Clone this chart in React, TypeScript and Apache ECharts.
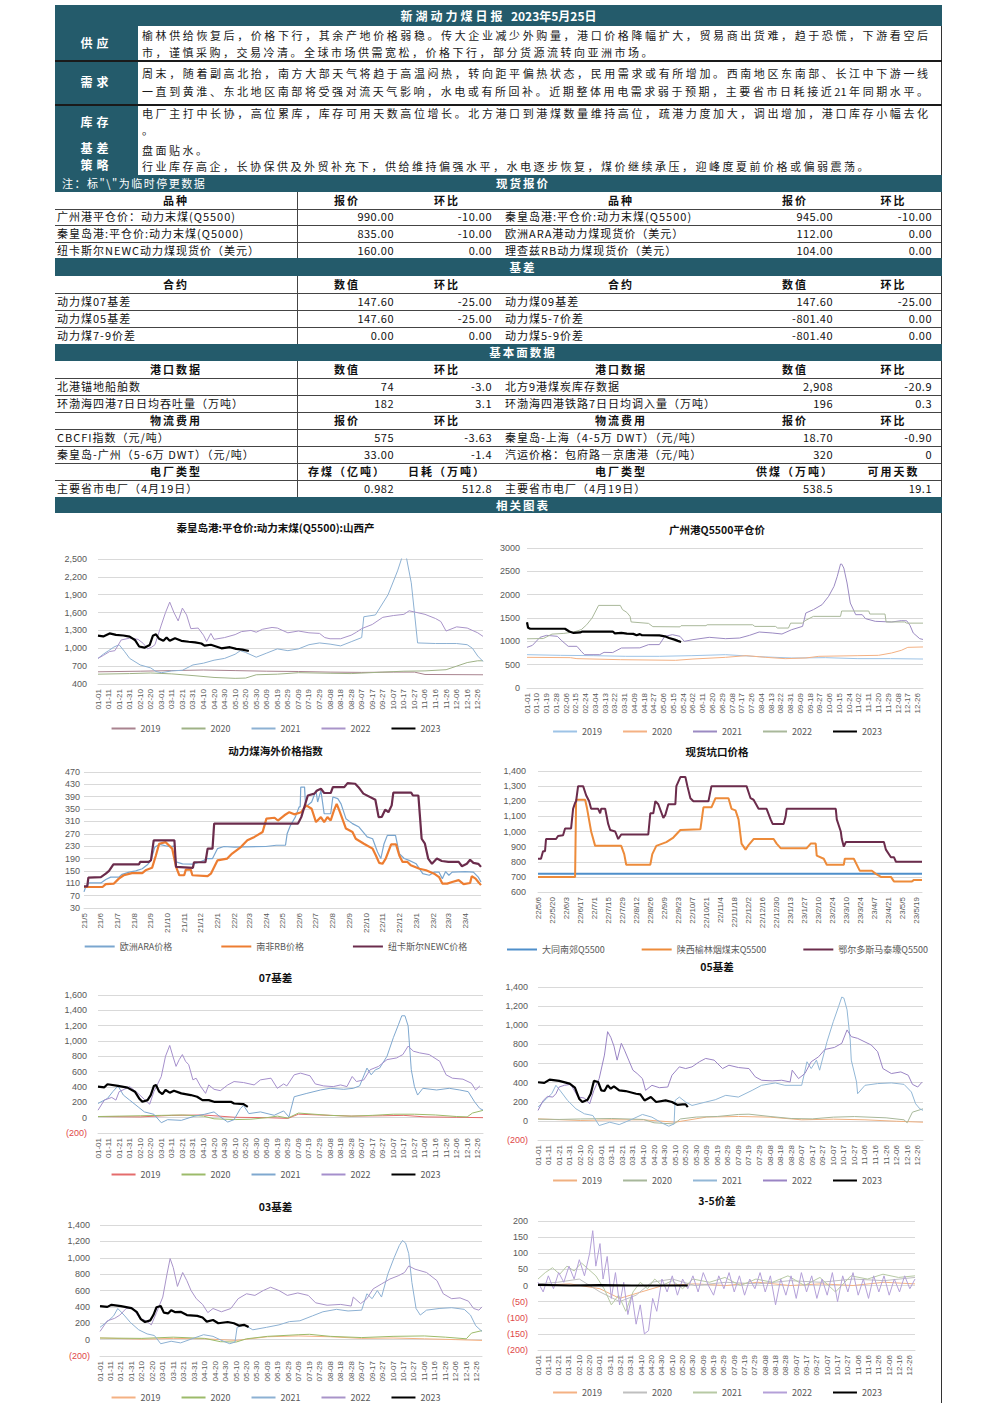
import React, { useEffect, useRef } from "react";
import * as echarts from "echarts";

type Pair = [string, number];

const TEAL = "#245b6b";
const CJK = "'Noto Sans CJK SC','Noto Sans',sans-serif";
const LATIN = "'Liberation Sans','DejaVu Sans',sans-serif";
const AXIS_GRAY = "#595959";
const GRID_GRAY = "#d9d9d9";

// ---------- text block ----------
const supplyLines = [
  "榆林供给恢复后，价格下行，其余产地价格弱稳。传大企业减少外购量，港口价格降幅扩大，贸易商出货难，趋于恐慌，下游看空后",
  "市，谨慎采购，交易冷清。全球市场供需宽松，价格下行，部分货源流转向亚洲市场。",
];
const demandLines = [
  "周末，随着副高北抬，南方大部天气将趋于高温闷热，转向距平偏热状态，民用需求或有所增加。西南地区东南部、长江中下游一线",
  "一直到黄淮、东北地区南部将受强对流天气影响，水电或有所回补。近期整体用电需求弱于预期，主要省市日耗接近21年同期水平。",
];
const inventoryLines = [
  "电厂主打中长协，高位累库，库存可用天数高位增长。北方港口到港煤数量维持高位，疏港力度加大，调出增加，港口库存小幅去化",
  "。",
];
const basisText = "盘面贴水。";
const strategyText = "行业库存高企，长协保供及外贸补充下，供给维持偏强水平，水电逐步恢复，煤价继续承压，迎峰度夏前价格或偏弱震荡。";

// ---------- tables ----------
const spotHeader = ["品种", "报价", "环比", "品种", "报价", "环比"];
const spotRows = [
  ["广州港平仓价：动力末煤(Q5500)", "990.00", "-10.00", "秦皇岛港:平仓价:动力末煤(Q5500)", "945.00", "-10.00"],
  ["秦皇岛港:平仓价:动力末煤(Q5000)", "835.00", "-10.00", "欧洲ARA港动力煤现货价（美元）", "112.00", "0.00"],
  ["纽卡斯尔NEWC动力煤现货价（美元）", "160.00", "0.00", "理查兹RB动力煤现货价（美元）", "104.00", "0.00"],
];
const basisHeader = ["合约", "数值", "环比", "合约", "数值", "环比"];
const basisRows = [
  ["动力煤07基差", "147.60", "-25.00", "动力煤09基差", "147.60", "-25.00"],
  ["动力煤05基差", "147.60", "-25.00", "动力煤5-7价差", "-801.40", "0.00"],
  ["动力煤7-9价差", "0.00", "0.00", "动力煤5-9价差", "-801.40", "0.00"],
];
const portHeader = ["港口数据", "数值", "环比", "港口数据", "数值", "环比"];
const portRows = [
  ["北港锚地船舶数", "74", "-3.0", "北方9港煤炭库存数据", "2,908", "-20.9"],
  ["环渤海四港7日日均吞吐量（万吨）", "182", "3.1", "环渤海四港铁路7日日均调入量（万吨）", "196", "0.3"],
];
const logiHeader = ["物流费用", "报价", "环比", "物流费用", "报价", "环比"];
const logiRows = [
  ["CBCFI指数（元/吨）", "575", "-3.63", "秦皇岛-上海（4-5万 DWT）（元/吨）", "18.70", "-0.90"],
  ["秦皇岛-广州（5-6万 DWT）（元/吨）", "33.00", "-1.4", "汽运价格：包府路—京唐港（元/吨）", "320", "0"],
];
const plantHeader = ["电厂类型", "存煤（亿吨）", "日耗（万吨）", "电厂类型", "供煤（万吨）", "可用天数"];
const plantRows = [["主要省市电厂（4月19日）", "0.982", "512.8", "主要省市电厂（4月19日）", "538.5", "19.1"]];

// ---------- chart categories ----------
const seasonCats: string[] = (() => {
  const out: string[] = [];
  for (let t = Date.UTC(2020, 0, 1); t < Date.UTC(2021, 0, 1); t += 86400000) {
    const d = new Date(t);
    out.push(String(d.getUTCMonth() + 1).padStart(2, "0") + "-" + String(d.getUTCDate()).padStart(2, "0"));
  }
  return out;
})();
function dateCats(y0: number, m0: number, d0: number, y1: number, m1: number, d1: number): string[] {
  const out: string[] = [];
  for (let t = Date.UTC(y0, m0 - 1, d0); t <= Date.UTC(y1, m1 - 1, d1); t += 86400000) {
    const d = new Date(t);
    out.push(`${String(d.getUTCFullYear()).slice(2)}/${d.getUTCMonth() + 1}/${d.getUTCDate()}`);
  }
  return out;
}
const overseasCats = dateCats(2021, 5, 1, 2023, 4, 30);
const pitCats = dateCats(2022, 5, 6, 2023, 5, 24);

// ---------- chart 1: 秦皇岛港 山西产 ----------
const qhd2019: Pair[] = [["01-01",605],["02-10",615],["03-11",625],["04-10",635],["05-10",625],["06-09",615],["07-09",610],["08-08",600],["09-07",595],["10-07",600],["10-27",600],["11-06",560],["12-31",555]];
const qhd2020: Pair[] = [["01-01",565],["01-31",575],["02-20",585],["03-11",570],["04-01",540],["04-20",510],["05-10",495],["05-20",500],["05-30",555],["06-19",565],["07-09",590],["08-08",580],["08-28",575],["09-27",600],["10-17",615],["11-06",620],["11-26",640],["12-06",700],["12-16",760],["12-26",790],["12-31",790]];
const qhd2021: Pair[] = [["01-01",830],["01-06",900],["01-11",960],["01-16",1020],["01-21",1060],["01-26",950],["01-31",830],["02-10",720],["02-20",670],["02-25",610],["03-01",590],["03-11",620],["03-21",630],["03-31",720],["04-10",750],["04-20",800],["04-30",830],["05-10",900],["05-15",960],["05-20",930],["05-30",850],["06-09",920],["06-19",990],["06-29",960],["07-09",990],["07-19",1060],["07-29",1090],["08-08",1070],["08-18",1040],["08-28",1110],["09-07",1180],["09-09",1530],["09-20",1560],["10-02",1900],["10-11",2300],["10-16",2570],["10-19",2560],["10-24",2100],["10-27",1600],["10-30",1090],["11-16",1080],["11-26",1080],["12-06",1080],["12-16",1060],["12-21",1000],["12-26",870],["12-31",780]];
const qhd2022: Pair[] = [["01-01",830],["01-06",880],["01-12",945],["01-17",960],["01-23",1140],["01-31",1170],["02-08",1150],["02-13",1080],["02-17",990],["02-21",1020],["02-24",1060],["03-01",1390],["03-05",1600],["03-09",1776],["03-13",1600],["03-17",1460],["03-21",1675],["03-25",1560],["03-29",1330],["04-05",1340],["04-10",1220],["04-13",1115],["04-17",1250],["04-20",1150],["04-30",1180],["05-10",1230],["05-16",1280],["05-25",1300],["05-30",1270],["06-05",1320],["06-14",1350],["06-19",1340],["06-29",1260],["07-09",1290],["07-19",1260],["07-29",1250],["08-03",1180],["08-08",1160],["08-18",1160],["08-28",1220],["09-02",1270],["09-07",1330],["09-17",1400],["09-27",1520],["10-07",1550],["10-17",1570],["10-22",1630],["10-27",1610],["11-06",1570],["11-16",1500],["11-21",1450],["11-26",1290],["12-06",1360],["12-16",1340],["12-26",1260],["12-31",1200]];
const qhd2023: Pair[] = [["01-01",1214],["01-06",1200],["01-12",1250],["01-18",1225],["01-25",1215],["01-31",1195],["02-05",1140],["02-09",1030],["02-14",1010],["02-19",1055],["02-22",1210],["02-25",1235],["02-28",1160],["03-03",1125],["03-06",1180],["03-09",1125],["03-14",1170],["03-20",1125],["03-27",1110],["04-02",1100],["04-08",1080],["04-11",1045],["04-17",1060],["04-22",1030],["04-27",1000],["05-05",1018],["05-11",990],["05-17",978],["05-23",955]];

// ---------- chart 2: 广州港 ----------
const gz2019: Pair[] = [["01-01",714],["02-01",700],["03-02",693],["04-01",679],["05-02",679],["06-01",693],["07-02",714],["08-02",671],["09-01",643],["10-02",650],["11-01",629],["12-01",629],["12-31",621]];
const gz2020: Pair[] = [["01-01",657],["02-10",650],["02-16",629],["03-27",607],["05-17",593],["06-02",621],["07-02",657],["07-21",693],["08-08",657],["08-26",629],["09-14",643],["09-26",679],["11-01",693],["11-20",700],["12-02",750],["12-11",807],["12-17",871],["12-31",879]];
const gz2021: Pair[] = [["01-01",871],["01-06",914],["01-13",1086],["01-19",1128],["01-29",1107],["02-02",1014],["02-08",893],["02-16",893],["02-20",786],["02-23",714],["03-08",714],["03-12",764],["03-20",760],["03-28",857],["04-14",860],["04-22",929],["05-02",930],["05-07",1107],["05-14",1143],["05-21",1107],["05-25",1000],["06-02",1036],["06-17",1086],["07-02",1057],["07-15",1071],["07-24",1128],["08-02",1200],["08-14",1179],["08-23",1157],["09-01",1250],["09-11",1321],["09-14",1607],["09-21",1679],["09-29",1786],["10-05",1964],["10-10",2179],["10-13",2393],["10-16",2657],["10-17",2657],["10-19",2571],["10-22",2250],["10-25",1821],["10-30",1571],["11-05",1571],["11-08",1486],["11-17",1429],["12-02",1414],["12-11",1443],["12-16",1440],["12-19",1343],["12-22",1179],["12-28",1057],["12-31",1040]];
const gz2022: Pair[] = [["01-01",1055],["01-16",1060],["01-24",1155],["02-04",1170],["02-13",1200],["02-20",1250],["02-25",1355],["03-01",1500],["03-07",1770],["03-27",1770],["03-29",1680],["04-02",1620],["04-05",1535],["04-06",1415],["04-22",1385],["04-26",1315],["05-21",1310],["05-22",1335],["06-14",1335],["06-15",1355],["07-27",1355],["07-29",1320],["08-17",1320],["08-19",1285],["08-29",1285],["08-31",1390],["09-11",1390],["09-13",1440],["09-21",1535],["10-16",1535],["10-17",1650],["11-11",1650],["11-12",1585],["11-26",1585],["11-27",1415],["12-14",1415],["12-16",1390],["12-31",1390]];
const gz2023: Pair[] = [["01-01",1410],["01-02",1290],["01-04",1270],["02-05",1270],["02-09",1210],["02-13",1180],["02-19",1190],["02-21",1210],["03-20",1210],["03-22",1170],["03-28",1180],["04-02",1165],["04-08",1160],["04-11",1130],["04-14",1155],["04-16",1130],["05-02",1128],["05-07",1107],["05-11",1070],["05-16",1036],["05-19",1010],["05-22",985]];

// ---------- chart 3: 海外价格指数 ----------
const araPrice: Pair[] = [["21/5/1",82],["21/5/4",98],["21/5/10",111],["21/6/1",111],["21/6/10",122],["21/6/19",130],["21/7/4",130],["21/7/10",139],["21/7/23",146],["21/8/4",150],["21/8/16",157],["21/8/26",171],["21/9/1",184],["21/9/8",227],["21/9/17",236],["21/10/3",229],["21/10/14",230],["21/10/17",179],["21/10/29",173],["21/11/17",172],["21/11/30",179],["21/12/14",190],["21/12/23",190],["22/1/1",222],["22/1/13",229],["22/2/1",227],["22/3/31",229],["22/4/19",233],["22/5/6",233],["22/5/9",270],["22/5/15",297],["22/5/24",324],["22/5/31",357],["22/6/2",357],["22/6/3",421],["22/6/10",421],["22/6/12",357],["22/6/23",373],["22/7/1",410],["22/7/4",373],["22/7/10",410],["22/7/16",335],["22/7/28",335],["22/8/1",389],["22/8/10",384],["22/8/16",367],["22/8/25",319],["22/9/6",303],["22/9/18",292],["22/10/3",260],["22/10/13",254],["22/10/22",211],["22/10/28",190],["22/11/3",238],["22/11/9",265],["22/11/24",265],["22/12/1",206],["22/12/10",190],["22/12/19",184],["23/1/1",173],["23/1/13",141],["23/1/25",136],["23/2/3",146],["23/2/12",146],["23/2/18",125],["23/2/24",148],["23/3/2",136],["23/3/8",146],["23/4/1",148],["23/4/16",146],["23/4/25",130],["23/4/30",114]];
const rbPrice: Pair[] = [["21/5/1",98],["21/6/4",98],["21/6/10",107],["21/6/25",109],["21/7/4",125],["21/7/13",136],["21/7/28",143],["21/8/16",143],["21/8/22",152],["21/9/3",160],["21/9/10",200],["21/9/16",238],["21/9/28",243],["21/10/10",222],["21/10/17",163],["21/10/23",136],["21/11/1",136],["21/11/4",154],["21/11/13",154],["21/11/16",136],["21/12/14",133],["21/12/20",141],["22/1/1",184],["22/1/19",190],["22/1/28",206],["22/2/13",227],["22/2/25",249],["22/3/10",260],["22/3/25",276],["22/4/1",319],["22/4/16",322],["22/4/22",313],["22/5/4",330],["22/5/13",340],["22/5/22",333],["22/6/4",340],["22/6/13",362],["22/6/23",351],["22/7/1",308],["22/7/10",324],["22/7/16",308],["22/7/22",324],["22/7/28",313],["22/8/3",346],["22/8/8",367],["22/8/14",340],["22/8/25",287],["22/9/6",276],["22/9/12",254],["22/9/27",238],["22/10/13",222],["22/10/19",200],["22/10/25",176],["22/10/31",173],["22/11/6",190],["22/11/16",236],["22/11/25",236],["22/12/1",200],["22/12/7",179],["22/12/16",179],["22/12/22",168],["23/1/7",157],["23/1/19",152],["23/2/3",141],["23/2/12",130],["23/2/18",109],["23/2/27",109],["23/3/8",114],["23/3/20",120],["23/3/29",107],["23/4/10",111],["23/4/13",133],["23/4/20",125],["23/4/25",114],["23/4/30",104]];
const newcPrice: Pair[] = [["21/5/1",100],["21/5/7",100],["21/5/9",128],["21/6/1",130],["21/6/10",141],["21/6/16",150],["21/6/24",171],["21/8/10",171],["21/8/12",179],["21/8/28",179],["21/9/1",185],["21/9/6",249],["21/10/14",249],["21/10/17",163],["21/11/17",160],["21/11/19",178],["21/12/10",178],["21/12/14",222],["21/12/23",222],["21/12/26",303],["22/5/29",303],["22/6/4",324],["22/6/16",394],["22/6/28",400],["22/7/3",410],["22/7/10",416],["22/7/16",402],["22/7/28",402],["22/8/1",421],["22/8/22",421],["22/8/28",434],["22/9/11",432],["22/9/17",421],["22/9/26",400],["22/10/18",380],["22/10/24",324],["22/10/30",325],["22/11/5",348],["22/11/11",340],["22/11/17",362],["22/11/20",403],["22/12/23",403],["22/12/26",394],["23/1/5",394],["23/1/8",324],["23/1/11",254],["23/1/17",238],["23/1/23",190],["23/1/30",173],["23/2/8",190],["23/2/17",182],["23/3/1",179],["23/3/20",179],["23/3/26",165],["23/4/4",173],["23/4/10",186],["23/4/16",176],["23/4/25",173],["23/4/30",163]];

// ---------- chart 4: 现货坑口价格 ----------
const datongPrice: Pair[] = [["22/5/6",720],["23/5/24",720]];
const shaanxiPrice: Pair[] = [["22/5/6",700],["22/6/12",700],["22/6/13",1210],["22/6/22",1210],["22/6/24",1150],["22/6/28",1000],["22/7/2",905],["22/7/28",905],["22/7/31",850],["22/8/2",780],["22/8/26",780],["22/8/28",850],["22/9/1",905],["22/9/11",930],["22/9/18",960],["22/9/25",1010],["22/10/15",1015],["22/10/18",1160],["22/10/26",1160],["22/10/30",1220],["22/11/12",1220],["22/11/15",1150],["22/11/19",1140],["22/11/22",1080],["22/11/25",920],["22/11/29",880],["22/12/2",910],["22/12/7",950],["22/12/27",950],["22/12/30",920],["23/1/3",890],["23/1/29",890],["23/2/2",920],["23/2/7",920],["23/2/8",840],["23/2/15",820],["23/2/18",780],["23/3/7",780],["23/3/8",820],["23/3/17",820],["23/3/23",740],["23/4/4",740],["23/4/8",720],["23/4/13",700],["23/4/23",700],["23/4/26",670],["23/5/14",670],["23/5/16",680],["23/5/24",680]];
const ordosPrice: Pair[] = [["22/5/6",820],["22/5/9",820],["22/5/11",870],["22/5/13",870],["22/5/14",950],["22/5/24",950],["22/5/26",970],["22/5/31",975],["22/6/2",1020],["22/6/8",1020],["22/6/10",1150],["22/6/12",1190],["22/6/13",1200],["22/6/15",1300],["22/6/20",1300],["22/6/23",1240],["22/6/26",1200],["22/6/28",1150],["22/7/5",1150],["22/7/7",1120],["22/7/8",1150],["22/7/12",1150],["22/7/15",1050],["22/7/17",1010],["22/7/22",1000],["22/7/25",950],["22/7/28",980],["22/8/24",980],["22/8/26",1120],["22/8/29",1120],["22/8/31",1200],["22/9/3",1180],["22/9/8",1090],["22/9/10",1110],["22/9/13",1180],["22/9/20",1180],["22/9/21",1300],["22/9/25",1360],["22/9/30",1360],["22/10/2",1300],["22/10/5",1220],["22/10/8",1200],["22/10/23",1200],["22/10/26",1300],["22/11/30",1300],["22/12/4",1220],["22/12/7",1210],["22/12/12",1150],["22/12/20",1150],["22/12/24",1080],["22/12/26",1050],["23/1/6",1050],["23/1/8",1100],["23/1/9",1150],["23/2/27",1150],["23/2/28",1080],["23/3/4",1000],["23/3/5",950],["23/3/7",900],["23/3/9",930],["23/4/16",930],["23/4/18",880],["23/4/23",830],["23/4/26",830],["23/4/28",800],["23/5/24",800]];

// ---------- chart 5: 07基差 ----------
const b07_2019: Pair[] = [["01-01",15],["02-10",10],["03-11",30],["04-10",35],["05-10",5],["06-09",0],["06-29",-10],["07-09",45],["07-29",35],["08-28",20],["09-27",25],["10-17",30],["11-06",10],["12-06",5],["12-31",0]];
const b07_2020: Pair[] = [["01-01",15],["01-21",20],["02-10",25],["03-01",30],["03-21",35],["04-10",20],["04-20",-15],["05-10",-25],["05-25",-20],["06-09",0],["06-19",20],["06-29",-5],["07-09",60],["07-19",50],["08-08",30],["08-28",20],["09-17",30],["10-07",45],["10-27",45],["11-16",35],["12-06",15],["12-16",10],["12-21",60],["12-31",95]];
const b07_2021: Pair[] = [["01-01",185],["01-10",251],["01-15",339],["01-20",414],["01-25",295],["01-31",229],["02-08",141],["02-14",75],["02-23",44],["03-01",-66],["03-07",-26],["03-20",-35],["04-01",18],["04-11",44],["04-20",75],["04-26",9],["05-03",-57],["05-09",-26],["05-15",119],["05-18",160],["05-23",53],["06-03",75],["06-16",31],["06-25",88],["06-30",9],["07-05",273],["07-17",317],["07-30",361],["08-08",383],["08-21",370],["08-30",383],["09-05",414],["09-12",647],["09-16",559],["09-20",625],["09-24",647],["10-01",801],["10-07",1043],["10-12",1219],["10-15",1329],["10-18",1329],["10-21",1197],["10-24",625],["10-27",405],["10-30",295],["11-04",383],["11-17",361],["11-29",383],["12-09",361],["12-17",339],["12-23",207],["12-28",119],["12-31",100]];
const b07_2022: Pair[] = [["01-01",97],["01-07",229],["01-14",264],["01-18",229],["01-21",339],["01-26",370],["01-31",405],["02-08",317],["02-14",238],["02-19",176],["02-23",339],["03-01",537],["03-05",801],["03-09",942],["03-12",801],["03-15",669],["03-18",757],["03-21",823],["03-24",735],["03-27",691],["03-31",493],["04-03",515],["04-07",414],["04-12",317],["04-15",427],["04-20",370],["04-26",352],["05-03",427],["05-09",471],["05-18",458],["05-28",427],["06-03",493],["06-13",515],["06-19",383],["06-25",440],["06-28",414],["07-05",559],["07-11",581],["07-20",546],["07-25",440],["08-02",414],["08-11",405],["08-18",427],["08-24",405],["08-29",537],["09-02",471],["09-09",493],["09-15",625],["09-23",669],["10-01",757],["10-10",779],["10-16",823],["10-21",933],["10-26",867],["11-01",845],["11-10",823],["11-20",735],["11-26",559],["12-02",515],["12-12",502],["12-20",449],["12-24",361],["12-28",414]];
const b07_2023: Pair[] = [["01-01",405],["01-07",396],["01-10",436],["01-20",414],["01-29",392],["02-05",339],["02-09",251],["02-12",207],["02-17",229],["02-20",295],["02-23",414],["02-25",427],["02-28",339],["03-02",308],["03-05",361],["03-09",326],["03-13",352],["03-20",317],["03-29",295],["04-04",273],["04-09",229],["04-15",229],["04-20",207],["04-29",207],["05-06",207],["05-09",185],["05-18",176],["05-22",141]];

// ---------- chart 6: 05基差 ----------
const b05_2019: Pair[] = [["01-01",21],["02-10",4],["03-11",11],["04-10",11],["05-10",-14],["06-09",40],["07-09",46],["08-08",39],["09-07",11],["10-07",18],["11-06",11],["12-06",-4],["12-31",-14]];
const b05_2020: Pair[] = [["01-01",18],["01-21",15],["02-10",20],["03-11",25],["04-10",15],["04-20",-20],["05-09",-32],["05-15",20],["05-30",40],["06-19",46],["07-09",67],["07-19",70],["08-08",46],["08-28",25],["09-17",21],["10-07",39],["10-27",45],["11-26",32],["12-13",11],["12-16",-20],["12-21",91],["12-31",126]];
const b05_2021: Pair[] = [["01-01",144],["01-09",232],["01-14",284],["01-18",372],["01-23",302],["01-29",214],["02-06",126],["02-14",74],["02-22",56],["02-28",-49],["03-09",-14],["03-18",-39],["03-31",21],["04-09",67],["04-18",39],["04-28",-25],["05-04",-56],["05-09",-32],["05-10",214],["05-14",249],["05-20",197],["05-26",161],["06-08",197],["06-17",221],["06-27",267],["07-09",249],["07-22",319],["07-31",372],["08-13",397],["08-22",372],["09-07",372],["09-12",618],["09-16",547],["09-21",635],["09-24",530],["10-01",828],["10-07",1039],["10-12",1197],["10-15",1295],["10-17",1284],["10-20",1161],["10-23",846],["10-24",635],["10-29",407],["10-30",284],["11-06",372],["11-18",390],["12-01",397],["12-13",382],["12-20",302],["12-24",179],["12-28",126],["12-31",110]];
const b05_2022: Pair[] = [["01-01",109],["01-06",214],["01-10",256],["01-15",249],["01-18",284],["01-21",354],["01-26",372],["02-01",382],["02-08",249],["02-14",239],["02-19",179],["02-23",319],["02-28",442],["03-04",688],["03-07",933],["03-10",874],["03-13",782],["03-16",635],["03-20",811],["03-23",740],["03-27",635],["03-31",530],["04-04",495],["04-09",442],["04-12",319],["04-18",372],["04-25",347],["05-03",354],["05-07",477],["05-14",565],["05-20",547],["05-26",565],["06-02",618],["06-08",653],["06-16",635],["06-24",547],["06-30",582],["07-09",558],["07-19",547],["07-25",460],["07-31",425],["08-10",418],["08-19",425],["08-27",407],["08-29",530],["09-04",442],["09-10",495],["09-16",618],["09-23",670],["09-29",747],["10-08",768],["10-15",811],["10-20",951],["10-24",881],["10-30",863],["11-12",793],["11-18",723],["11-23",547],["12-01",495],["12-10",512],["12-17",477],["12-21",382],["12-26",354],["12-30",404]];
const b05_2023: Pair[] = [["01-01",404],["01-07",397],["01-12",432],["01-21",418],["01-31",390],["02-05",347],["02-09",232],["02-12",197],["02-17",221],["02-20",284],["02-23",418],["02-27",407],["03-01",319],["03-04",312],["03-07",372],["03-10",337],["03-13",361],["03-18",319],["03-24",312],["04-03",284],["04-07",277],["04-11",214],["04-17",249],["04-22",197],["05-01",214],["05-07",197],["05-12",168],["05-17",172],["05-20",172],["05-22",144]];

// ---------- chart 7: 03基差 ----------
const b03_2019: Pair[] = [["01-01",20],["02-10",5],["03-11",15],["04-10",10],["05-10",-10],["06-09",35],["07-09",45],["08-08",35],["09-07",15],["10-07",20],["11-06",10],["12-06",0],["12-31",-10]];
const b03_2020: Pair[] = [["01-01",20],["02-10",15],["03-11",30],["04-10",15],["04-25",-25],["05-10",-30],["05-20",10],["06-09",40],["07-09",60],["07-19",65],["08-08",40],["09-07",25],["10-07",40],["11-06",45],["11-26",30],["12-16",10],["12-21",80],["12-31",110]];
const b03_2021: Pair[] = [["01-01",150],["01-09",230],["01-14",290],["01-18",380],["01-24",300],["01-30",210],["02-07",120],["02-15",70],["02-22",50],["02-28",-50],["03-09",-20],["03-18",-40],["03-31",20],["04-09",60],["04-18",40],["04-28",-20],["05-04",-50],["05-09",-30],["05-11",150],["05-18",180],["05-26",120],["06-08",150],["06-20",180],["06-30",220],["07-10",230],["07-22",290],["08-01",340],["08-14",370],["08-25",350],["09-07",360],["09-12",560],["09-17",500],["09-22",600],["09-26",520],["10-02",800],["10-08",1000],["10-13",1150],["10-16",1210],["10-19",1180],["10-22",1050],["10-25",700],["10-29",380],["11-02",300],["11-08",360],["11-20",380],["12-02",390],["12-14",370],["12-20",300],["12-25",170],["12-31",100]];
const b03_2022: Pair[] = [["01-01",100],["01-08",230],["01-15",260],["01-20",300],["01-26",380],["02-01",390],["02-08",260],["02-14",230],["02-19",180],["02-24",330],["03-01",520],["03-05",800],["03-08",990],["03-11",880],["03-15",650],["03-20",820],["03-24",720],["03-28",600],["04-02",500],["04-08",430],["04-13",330],["04-18",380],["04-26",340],["05-05",380],["05-12",500],["05-20",560],["05-28",540],["06-05",600],["06-12",640],["06-20",600],["06-28",540],["07-08",570],["07-18",540],["07-25",450],["08-05",420],["08-18",430],["08-28",410],["08-30",520],["09-06",440],["09-12",500],["09-18",620],["09-26",680],["10-04",740],["10-12",780],["10-18",820],["10-22",900],["10-28",860],["11-08",820],["11-18",720],["11-24",560],["12-02",500],["12-10",510],["12-18",470],["12-23",380],["12-28",360],["12-31",400]];
const b03_2023: Pair[] = [["01-01",410],["01-08",400],["01-12",425],["01-21",410],["01-31",385],["02-05",340],["02-09",250],["02-13",215],["02-18",235],["02-21",300],["02-24",395],["02-28",410],["03-02",330],["03-06",320],["03-09",360],["03-13",335],["03-18",340],["03-24",300],["04-03",290],["04-08",270],["04-12",220],["04-18",240],["04-23",200],["05-02",215],["05-08",200],["05-13",170],["05-18",180],["05-22",155]];

// ---------- chart 8: 3-5价差 ----------
const s35_2019: Pair[] = [["01-01",0],["02-01",5],["03-01",-10],["03-20",-40],["04-10",-20],["05-01",0],["06-01",5],["07-01",0],["08-01",10],["09-01",0],["10-01",5],["11-01",0],["12-01",10],["12-31",5]];
const s35_2020: Pair[] = [["01-01",5],["01-20",10],["02-10",20],["03-01",-20],["03-20",-50],["04-05",-30],["04-20",10],["05-10",20],["06-01",0],["07-01",10],["08-01",5],["09-01",15],["10-01",10],["11-01",20],["12-01",15],["12-31",25]];
const s35_2021: Pair[] = [["01-01",20],["01-08",40],["01-15",55],["01-22",35],["01-29",60],["02-05",45],["02-12",70],["02-19",50],["02-26",30],["03-05",-10],["03-12",-60],["03-19",-30],["03-26",-80],["04-02",-20],["04-09",10],["04-16",-10],["04-23",20],["04-30",0],["05-10",15],["05-20",-10],["05-30",20],["06-15",10],["06-30",25],["07-15",0],["07-30",20],["08-15",10],["08-30",30],["09-15",0],["09-30",25],["10-15",-20],["10-30",30],["11-15",20],["11-30",35],["12-15",25],["12-31",30]];
const s35_2022: Pair[] = [["01-01",10],["01-06",-20],["01-11",30],["01-16",-10],["01-21",40],["01-26",10],["01-31",60],["02-05",20],["02-10",80],["02-15",30],["02-20",100],["02-23",170],["02-26",60],["03-01",130],["03-04",20],["03-08",90],["03-12",-40],["03-16",40],["03-20",-60],["03-24",10],["03-28",-90],["04-01",-30],["04-05",-120],["04-09",-60],["04-13",-150],["04-17",-140],["04-21",-40],["04-25",-80],["04-30",20],["05-05",-20],["05-10",30],["05-15",-30],["05-20",20],["05-25",-10],["05-30",30],["06-04",-20],["06-09",40],["06-14",0],["06-19",-30],["06-24",30],["06-29",-10],["07-04",40],["07-09",-20],["07-14",30],["07-19",-30],["07-24",20],["07-29",-10],["08-03",40],["08-08",-20],["08-13",30],["08-18",-60],["08-23",20],["08-28",-30],["09-02",30],["09-07",-40],["09-12",40],["09-17",-20],["09-22",30],["09-27",-40],["10-02",20],["10-07",-30],["10-12",40],["10-17",-50],["10-22",30],["10-27",-20],["11-01",40],["11-06",-30],["11-11",20],["11-16",-40],["11-21",30],["11-26",-20],["12-01",30],["12-06",-30],["12-11",20],["12-16",-20],["12-21",30],["12-26",-10],["12-31",20]];
const s35_2023: Pair[] = [["01-01",2],["02-01",0],["03-01",1],["04-01",0],["05-01",0],["05-25",0]];

// ---------- helpers ----------
function toIdx(cats: string[], pairs: Pair[]) {
  const m = new Map<string, number>();
  cats.forEach((c, i) => m.set(c, i));
  return pairs.filter((p) => m.has(p[0])).map((p) => [m.get(p[0]) as number, p[1]]);
}
const fmtComma = (v: number) => v.toLocaleString("en-US");
const fmtPlain = (v: number) => String(v);
const fmtParen = (v: number) => (v < 0 ? `{neg|(${Math.abs(v).toLocaleString("en-US")})}` : v.toLocaleString("en-US"));

type S = { name: string; color: string; data: Pair[]; width?: number; z?: number };

function lineOption(cfg: {
  title: string; titleTop: number; grid: any; legendTop: number; legendGap?: number; legendW?: number;
  yMin: number; yMax: number; yInt: number; fmt: (v: number) => string; yMargin: number;
  cats: string[]; interval: any; xFmt?: (v: string) => string; series: S[];
}) {
  return {
    animation: false,
    title: {
      text: cfg.title, left: "center", top: cfg.titleTop,
      textStyle: { fontSize: 10.5, fontWeight: "bold", color: "#111", fontFamily: CJK },
    },
    legend: {
      top: cfg.legendTop, left: "center", itemWidth: cfg.legendW ?? 24, itemHeight: 8, itemGap: cfg.legendGap ?? 20,
      textStyle: { fontSize: 9, color: AXIS_GRAY, fontFamily: CJK },
      itemStyle: { opacity: 0 },
      data: cfg.series.map((s) => s.name),
    },
    grid: { ...cfg.grid, containLabel: false, outerBoundsMode: "none" },
    xAxis: {
      type: "category", data: cfg.cats, boundaryGap: false,
      axisLine: { show: true, onZero: false, lineStyle: { color: GRID_GRAY } },
      axisTick: { show: false },
      axisLabel: {
        interval: cfg.interval, rotate: 90, fontSize: 8, color: AXIS_GRAY, margin: 5, fontFamily: LATIN,
        formatter: cfg.xFmt ? cfg.xFmt : (v: string) => v,
      },
      splitLine: { show: false },
    },
    yAxis: {
      type: "value", min: cfg.yMin, max: cfg.yMax, interval: cfg.yInt,
      axisLine: { show: false }, axisTick: { show: false },
      axisLabel: {
        fontSize: 9, color: AXIS_GRAY, fontFamily: LATIN, margin: cfg.yMargin, formatter: cfg.fmt,
        rich: { neg: { color: "#e04848", fontSize: 9, fontFamily: LATIN } },
      },
      splitLine: { lineStyle: { color: GRID_GRAY, width: 1 } },
    },
    series: cfg.series.map((s) => ({
      type: "line", name: s.name, data: toIdx(cfg.cats, s.data), symbol: "none", showSymbol: false,
      lineStyle: { width: s.width ?? 1, color: s.color }, itemStyle: { color: s.color }, z: s.z ?? 2,
    })),
  };
}

function Chart({ x, y, w, h, option }: { x: number; y: number; w: number; h: number; option: any }) {
  const ref = useRef<HTMLDivElement>(null);
  useEffect(() => {
    const c = echarts.init(ref.current as HTMLDivElement, null, { renderer: "svg" });
    c.setOption(option);
    return () => c.dispose();
  }, []);
  return <div ref={ref} style={{ position: "absolute", left: x, top: y, width: w, height: h }} />;
}

// ---------- table geometry ----------
const COLS = [
  { x: 55, w: 242, align: "left", pl: 2, pr: 0 },
  { x: 297, w: 100, align: "right", pl: 0, pr: 3 },
  { x: 397, w: 100, align: "right", pl: 0, pr: 5 },
  { x: 497, w: 248, align: "left", pl: 8, pr: 0 },
  { x: 745, w: 100, align: "right", pl: 0, pr: 12 },
  { x: 845, w: 97, align: "right", pl: 0, pr: 10 },
];
const ROW_H = 17;

function Line({ x1, y1, x2, y2, color = "#333", t = 1 }: any) {
  if (y1 === y2) return <div style={{ position: "absolute", left: x1, top: y1, width: x2 - x1, height: t, background: color }} />;
  return <div style={{ position: "absolute", left: x1, top: y1, width: t, height: y2 - y1, background: color }} />;
}

function Row({ y, cells, header }: { y: number; cells: string[]; header?: boolean }) {
  return (
    <>
      {COLS.map((c, i) => (
        <div key={i} style={{
          position: "absolute", left: c.x, top: y, width: c.w, height: ROW_H, lineHeight: ROW_H + "px",
          textAlign: header ? "center" : (c.align as any), paddingLeft: header ? 0 : c.pl, paddingRight: header ? 0 : c.pr,
          boxSizing: "border-box", whiteSpace: "nowrap", overflow: "visible", fontSize: 11,
          letterSpacing: header ? 2 : i === 0 || i === 3 ? 1 : 0.5, fontWeight: header ? "bold" : "normal", color: "#111",
        }}>{cells[i]}</div>
      ))}
      <Line x1={55} y1={y + ROW_H} x2={942} y2={y + ROW_H} color="#444" />
    </>
  );
}

function Bar({ y, h, title, note }: { y: number; h: number; title: string; note?: string }) {
  return (
    <>
      <div style={{ position: "absolute", left: 55, top: y, width: 887, height: h, background: TEAL }} />
      {note && (
        <div style={{ position: "absolute", left: 62, top: y, height: h, lineHeight: h + "px", color: "#fff", fontSize: 11, letterSpacing: 1.5, whiteSpace: "nowrap" }}>{note}</div>
      )}
      <div style={{ position: "absolute", left: 55, top: y, width: 936, height: h, lineHeight: h + "px", textAlign: "center", color: "#fff", fontSize: 11.5, fontWeight: "bold", letterSpacing: 2 }}>{title}</div>
    </>
  );
}

function TextLine({ y, text, full }: { y: number; text: string; full?: boolean }) {
  return (
    <div style={{
      position: "absolute", left: 142, top: y - 8, width: full ? 786 : undefined, height: 16, lineHeight: "16px",
      fontSize: 11, color: "#1a1a1a", whiteSpace: "nowrap", letterSpacing: full ? 0 : 2.5,
      textAlign: full ? "justify" : "left", textAlignLast: full ? "justify" : "auto", overflow: "visible",
    } as any}>{text}</div>
  );
}

function SideLabel({ y, text }: { y: number; text: string }) {
  return (
    <div style={{ position: "absolute", left: 55, top: y - 8, width: 83, height: 16, lineHeight: "16px", textAlign: "center", color: "#fff", fontWeight: "bold", fontSize: 12, letterSpacing: 4 }}>{text}</div>
  );
}

// ---------- chart options ----------
const opt1 = lineOption({
  title: "秦皇岛港:平仓价:动力末煤(Q5500):山西产", titleTop: 2, grid: { left: 40, right: 10, top: 44, height: 125 },
  legendTop: 204, yMin: 400, yMax: 2500, yInt: 300, fmt: fmtComma, yMargin: 11, cats: seasonCats, interval: 9,
  series: [
    { name: "2019", color: "#a9838f", data: qhd2019 },
    { name: "2020", color: "#9fb286", data: qhd2020 },
    { name: "2021", color: "#8db1d3", data: qhd2021 },
    { name: "2022", color: "#a994c9", data: qhd2022 },
    { name: "2023", color: "#000", data: qhd2023, width: 2.2, z: 5 },
  ],
});
const opt2 = lineOption({
  title: "广州港Q5500平仓价", titleTop: 4, grid: { left: 30, right: 14, top: 33, height: 140 },
  legendTop: 207, yMin: 0, yMax: 3000, yInt: 500, fmt: fmtPlain, yMargin: 7, cats: seasonCats, interval: 8,
  series: [
    { name: "2019", color: "#9dc3e6", data: gz2019 },
    { name: "2020", color: "#f4b183", data: gz2020 },
    { name: "2021", color: "#9b8ac2", data: gz2021 },
    { name: "2022", color: "#a9b89a", data: gz2022 },
    { name: "2023", color: "#000", data: gz2023, width: 2.2, z: 5 },
  ],
});
const opt3 = lineOption({
  title: "动力煤海外价格指数", titleTop: 0, grid: { left: 26, right: 12, top: 32, height: 136 },
  legendTop: 197, legendGap: 48, legendW: 30, yMin: 30, yMax: 470, yInt: 40, fmt: fmtPlain, yMargin: 4,
  cats: overseasCats, interval: (_i: number, v: string) => v.split("/")[2] === "1",
  xFmt: (v: string) => v.split("/").slice(0, 2).join("/"),
  series: [
    { name: "欧洲ARA价格", color: "#7aa6cf", data: araPrice, width: 1.2 },
    { name: "南非RB价格", color: "#ed7d31", data: rbPrice, width: 2.2 },
    { name: "纽卡斯尔NEWC价格", color: "#6b2c4c", data: newcPrice, width: 2.2, z: 3 },
  ],
});
const opt4 = lineOption({
  title: "现货坑口价格", titleTop: 1, grid: { left: 41, right: 15, top: 31, height: 121 },
  legendTop: 200, legendGap: 36, legendW: 30, yMin: 600, yMax: 1400, yInt: 100, fmt: fmtComma, yMargin: 12,
  cats: pitCats, interval: 13,
  series: [
    { name: "大同南郊Q5500", color: "#4f8fca", data: datongPrice, width: 2 },
    { name: "陕西榆林烟煤末Q5500", color: "#ed8b3a", data: shaanxiPrice, width: 2 },
    { name: "鄂尔多斯马泰壕Q5500", color: "#6b2c4c", data: ordosPrice, width: 2 },
  ],
});
const opt5 = lineOption({
  title: "07基差", titleTop: 7, grid: { left: 40, right: 10, top: 35, height: 138 },
  legendTop: 205, yMin: -200, yMax: 1600, yInt: 200, fmt: fmtParen, yMargin: 11, cats: seasonCats, interval: 9,
  series: [
    { name: "2019", color: "#e46c6c", data: b07_2019 },
    { name: "2020", color: "#9cbb6a", data: b07_2020 },
    { name: "2021", color: "#7fa8cf", data: b07_2021 },
    { name: "2022", color: "#a58fcc", data: b07_2022 },
    { name: "2023", color: "#000", data: b07_2023, width: 2.2, z: 5 },
  ],
});
const opt6 = lineOption({
  title: "05基差", titleTop: 1, grid: { left: 41, right: 14, top: 32, height: 153 },
  legendTop: 216, yMin: -200, yMax: 1400, yInt: 200, fmt: fmtParen, yMargin: 10, cats: seasonCats, interval: 9,
  series: [
    { name: "2019", color: "#f0b080", data: b05_2019 },
    { name: "2020", color: "#a7b79a", data: b05_2020 },
    { name: "2021", color: "#92b7d6", data: b05_2021 },
    { name: "2022", color: "#9a84c4", data: b05_2022 },
    { name: "2023", color: "#000", data: b05_2023, width: 2.2, z: 5 },
  ],
});
const opt7 = lineOption({
  title: "03基差", titleTop: 6, grid: { left: 42, right: 11, top: 35, height: 131 },
  legendTop: 198, yMin: -200, yMax: 1400, yInt: 200, fmt: fmtParen, yMargin: 10, cats: seasonCats, interval: 9,
  series: [
    { name: "2019", color: "#f4b183", data: b03_2019 },
    { name: "2020", color: "#9cbb6a", data: b03_2020 },
    { name: "2021", color: "#8db1d3", data: b03_2021 },
    { name: "2022", color: "#a994c9", data: b03_2022 },
    { name: "2023", color: "#000", data: b03_2023, width: 2.2, z: 5 },
  ],
});
const opt8 = lineOption({
  title: "3-5价差", titleTop: 0, grid: { left: 41, right: 22, top: 31, height: 129 },
  legendTop: 193, yMin: -200, yMax: 200, yInt: 50, fmt: fmtParen, yMargin: 10, cats: seasonCats, interval: 9,
  series: [
    { name: "2019", color: "#f4b183", data: s35_2019 },
    { name: "2020", color: "#bfbfbf", data: s35_2020 },
    { name: "2021", color: "#b7c9a4", data: s35_2021 },
    { name: "2022", color: "#b4a0d8", data: s35_2022 },
    { name: "2023", color: "#000", data: s35_2023, width: 2.2, z: 5 },
  ],
});

export default function App() {
  return (
    <div lang="zh-CN" style={{ position: "absolute", left: 0, top: 0, width: 992, height: 1403, background: "#fff", overflow: "hidden", fontFamily: CJK }}>
      {/* title bar */}
      <div style={{ position: "absolute", left: 55, top: 5, width: 887, height: 21, background: TEAL }} />
      <div style={{ position: "absolute", left: 55, top: 5, width: 887, height: 21, lineHeight: "21px", textAlign: "center", color: "#fff", fontWeight: "bold", fontSize: 12 }}>
        <span style={{ letterSpacing: 3 }}>新湖动力煤日报</span>&nbsp; 2023年5月25日
      </div>
      {/* left label column */}
      <div style={{ position: "absolute", left: 55, top: 26, width: 83, height: 149, background: TEAL }} />
      <Line x1={941} y1={26} x2={941} y2={175} color="#333" />
      <Line x1={55} y1={60} x2={942} y2={60} color="#1a1a1a" t={1.5} />
      <Line x1={55} y1={104} x2={942} y2={104} color="#1a1a1a" t={1.5} />
      <SideLabel y={43} text="供应" />
      <SideLabel y={82} text="需求" />
      <SideLabel y={122} text="库存" />
      <SideLabel y={148} text="基差" />
      <SideLabel y={165} text="策略" />
      <TextLine y={35} text={supplyLines[0]} full />
      <TextLine y={52} text={supplyLines[1]} />
      <TextLine y={73} text={demandLines[0]} full />
      <TextLine y={91} text={demandLines[1]} full />
      <TextLine y={113} text={inventoryLines[0]} full />
      <TextLine y={130} text={inventoryLines[1]} />
      <TextLine y={150} text={basisText} />
      <TextLine y={166} text={strategyText} />

      {/* spot table */}
      <Bar y={175} h={17} title="现货报价" note={'注：标"\\"为临时停更数据'} />
      <Row y={192} cells={spotHeader} header />
      {spotRows.map((r, i) => <Row key={"s" + i} y={208 + i * ROW_H} cells={r} />)}
      <Line x1={297} y1={192} x2={297} y2={259} color="#444" />
      <Line x1={941} y1={192} x2={941} y2={259} color="#333" />

      {/* basis table */}
      <Bar y={258} h={18} title="基差" />
      <Row y={276} cells={basisHeader} header />
      {basisRows.map((r, i) => <Row key={"b" + i} y={293 + i * ROW_H} cells={r} />)}
      <Line x1={297} y1={276} x2={297} y2={345} color="#444" />
      <Line x1={941} y1={276} x2={941} y2={345} color="#333" />

      {/* fundamentals */}
      <Bar y={344} h={17} title="基本面数据" />
      <Row y={361} cells={portHeader} header />
      {portRows.map((r, i) => <Row key={"p" + i} y={378 + i * ROW_H} cells={r} />)}
      <Row y={412} cells={logiHeader} header />
      {logiRows.map((r, i) => <Row key={"l" + i} y={429 + i * ROW_H} cells={r} />)}
      <Row y={463} cells={plantHeader} header />
      {plantRows.map((r, i) => <Row key={"e" + i} y={480 + i * ROW_H} cells={r} />)}
      <Line x1={297} y1={361} x2={297} y2={497} color="#444" />
      <Line x1={941} y1={361} x2={941} y2={497} color="#333" />

      <Bar y={497} h={16} title="相关图表" />
      <Line x1={941} y1={513} x2={941} y2={1403} color="#333" />

      <Chart x={58} y={515} w={435} h={225} option={opt1} />
      <Chart x={497} y={515} w={440} h={225} option={opt2} />
      <Chart x={58} y={740} w={435} h={220} option={opt3} />
      <Chart x={497} y={740} w={440} h={220} option={opt4} />
      <Chart x={58} y={960} w={435} h={225} option={opt5} />
      <Chart x={497} y={955} w={440} h={235} option={opt6} />
      <Chart x={58} y={1190} w={435} h={213} option={opt7} />
      <Chart x={497} y={1190} w={440} h={213} option={opt8} />
    </div>
  );
}
